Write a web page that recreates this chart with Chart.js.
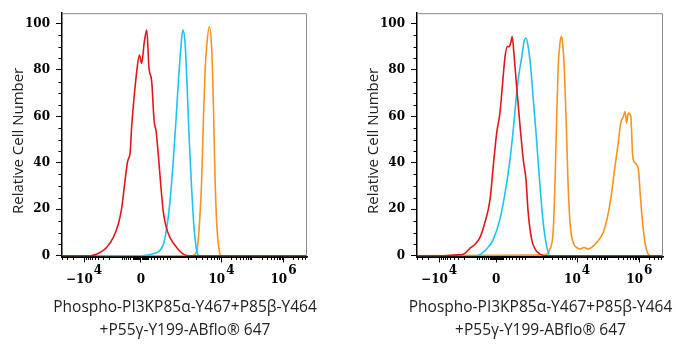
<!DOCTYPE html>
<html>
<head>
<meta charset="utf-8">
<script src="https://cdn.jsdelivr.net/npm/chart.js@4.4.1/dist/chart.umd.min.js"></script>
<style>
    body { margin: 0; background: #fff; }
    #wrap { position: relative; width: 676px; height: 350px; }
    canvas { position: absolute; top: 0; }
</style>
</head>
<body>
<div id="wrap">
    <canvas id="leftChart" width="338" height="350" style="left:0"></canvas>
    <canvas id="rightChart" width="338" height="350" style="left:338px"></canvas>
</div>
<script>
// x axis is in display channels (0..1000) of the biexponential scale
const xTickValues = [90, 322, 651, 904];
const xTickBase = ['\u221210', '0', '10', '10'];
const xTickExp = ['4', '', '4', '6'];
const yTickValues = [0, 20, 40, 60, 80, 100];
const xTitle = ['Phospho-PI3KP85\u03b1-Y467+P85\u03b2-Y464', '+P55\u03b3-Y199-ABflo\u00ae 647'];
const yTitle = 'Relative Cell Number';

// decade positions on the channel scale, used for the small ticks
const decadeNeg = [90, 237];          // -10^4, -10^3
const decadeZero = 322;               // 0
const decadePos = [453, 651, 778, 904]; // 10^3, 10^4, 10^5, 10^6

const leftRedX = [0, 86, 114, 155, 182, 209, 230, 244, 257, 268, 278, 284, 294, 305, 316, 325, 336, 346, 355, 366, 376, 384, 393, 403, 413, 424, 441, 468, 495, 522, 1000];
const leftRedY = [0, 0, 0, 1.4, 3.6, 7.8, 13.7, 20.7, 32.1, 40.7, 44.3, 55.0, 67.9, 79.3, 86.4, 82.8, 92.1, 97.1, 80.9, 75.2, 58.1, 53.6, 43.6, 30.7, 19.3, 12.9, 7.8, 3.6, 0.7, 0, 0];
const leftCyanX = [0, 305, 371, 413, 427, 441, 454, 465, 475, 485, 493, 502, 511, 519, 529, 539, 550, 560, 1000];
const leftCyanY = [0, 0, 0.9, 4.7, 11.6, 23.6, 40.7, 57.9, 75.0, 89.3, 97.1, 92.1, 72.1, 50.7, 29.3, 12.1, 2.1, 0, 0];
const leftOrangeX = [0, 529, 550, 560, 570, 577, 584, 591, 601, 611, 618, 624, 631, 642, 652, 1000];
const leftOrangeY = [0, 0, 2.1, 12.1, 32.1, 57.9, 79.3, 90.7, 98.6, 89.3, 65.0, 36.4, 15.0, 2.1, 0, 0];

const rightRedX = [0, 94, 161, 188, 215, 236, 256, 276, 297, 310, 324, 337, 348, 358, 367, 375, 382, 387, 394, 405, 419, 432, 443, 452, 466, 480, 500, 527, 1000];
const rightRedY = [0, 0, 0.4, 0.7, 3.2, 5.0, 7.9, 14.3, 24.3, 38.6, 52.9, 61.4, 74.3, 85.7, 90.0, 90.0, 92.1, 94.3, 87.1, 72.9, 55.7, 41.4, 32.9, 18.6, 7.1, 2.9, 0.7, 0, 0];
const rightCyanX = [0, 121, 243, 283, 310, 337, 358, 378, 394, 405, 415, 426, 435, 443, 452, 462, 473, 487, 500, 513, 527, 541, 561, 1000];
const rightCyanY = [0, 0, 0, 2.9, 7.1, 15.7, 27.1, 41.4, 57.1, 70.0, 78.6, 85.7, 92.1, 93.6, 90.0, 81.4, 67.1, 48.6, 30.0, 14.3, 4.3, 0, 0, 0];
const rightOrangeX = [0, 513, 541, 554, 561, 568, 574, 581, 587, 592, 599, 606, 613, 622, 635, 649, 663, 679, 696, 710, 730, 757, 778, 791, 805, 818, 828, 839, 846, 852, 859, 869, 877, 886, 900, 907, 917, 927, 940, 954, 1000];
const rightOrangeY = [0, 0.3, 2.9, 11.4, 31.4, 60.0, 81.4, 91.4, 94.3, 91.4, 80.0, 60.0, 34.3, 14.3, 5.7, 3.6, 2.9, 3.6, 2.9, 3.6, 5.7, 10.0, 18.6, 27.1, 38.6, 48.6, 57.1, 60.0, 62.1, 57.1, 61.4, 60.0, 42.9, 40.0, 37.1, 27.1, 14.3, 5.7, 0.7, 0, 0];

const RED = '#e3161c', CYAN = '#1cc4ee', ORANGE = '#f7931e';

function minorTicks() {
    let out = [];
    const neg = decadeNeg, pos = decadePos;
    for (let m = 2; m <= 9; m++) {
        const lg = Math.log10(m);
        out.push(neg[1] - lg * (neg[1] - neg[0]));
        out.push(neg[0] - lg * (neg[1] - neg[0]));
        for (let k = 0; k < pos.length - 1; k++) out.push(pos[k] + lg * (pos[k + 1] - pos[k]));
        out.push(pos[3] + lg * (pos[3] - pos[2]));
    }
    for (let m = 1; m <= 9; m++) {
        out.push(decadeZero - m / 10 * (decadeZero - neg[1]));
        out.push(decadeZero + m / 10 * (pos[0] - decadeZero));
        out.push(decadeZero - m * 3);
        out.push(decadeZero + m * 3);
    }
    return out.filter(v => v > 0 && v < 1000);
}
const xMinor = minorTicks();
const yMinor = [];
for (let v = 5; v < 100; v += 5) if (v % 20) yMinor.push(v);

function points(xs, ys) {
    return xs.map((x, i) => ({ x: x, y: ys[i] }));
}

const axisDecor = {
    id: 'axisDecor',
    afterDraw(chart) {
        const ctx = chart.ctx, a = chart.chartArea;
        const x = chart.scales.x, y = chart.scales.y;
        ctx.save();
        // grey frame top and right
        ctx.strokeStyle = '#8c8c8c';
        ctx.lineWidth = 1;
        ctx.beginPath();
        ctx.moveTo(a.left, a.top + 0.5);
        ctx.lineTo(a.right - 0.5, a.top + 0.5);
        ctx.lineTo(a.right - 0.5, a.bottom);
        ctx.stroke();
        // bottom axis line again, over the flat parts of the curves
        ctx.strokeStyle = '#000';
        ctx.lineWidth = 1.5;
        ctx.beginPath();
        ctx.moveTo(a.left - 0.75, a.bottom + 0.75);
        ctx.lineTo(a.right, a.bottom + 0.75);
        ctx.stroke();
        // small ticks
        ctx.lineWidth = 1;
        ctx.beginPath();
        xMinor.forEach(v => {
            const px = Math.round(x.getPixelForValue(v)) + 0.5;
            ctx.moveTo(px, a.bottom); ctx.lineTo(px, a.bottom + 3.5);
        });
        yMinor.forEach(v => {
            const py = Math.round(y.getPixelForValue(v)) + 0.5;
            ctx.moveTo(a.left, py); ctx.lineTo(a.left - 3.5, py);
        });
        ctx.stroke();
        // x tick labels with raised exponent
        ctx.font = 'bold 12px "DejaVu Serif"';
        ctx.fillStyle = '#000';
        ctx.textBaseline = 'middle';
        ctx.textAlign = 'left';
        xTickValues.forEach((v, i) => {
            const px = x.getPixelForValue(v);
            const wb = ctx.measureText(xTickBase[i]).width;
            const we = xTickExp[i] ? ctx.measureText(xTickExp[i]).width + 1 : 0;
            const left = px - (wb + we) / 2;
            ctx.fillText(xTickBase[i], left, a.bottom + 23);
            if (xTickExp[i]) ctx.fillText(xTickExp[i], left + wb + 1, a.bottom + 14);
        });
        // x title, two lines, allowed to run wider than the axis
        ctx.font = '15.5px "Open Sans"';
        ctx.fillStyle = '#222';
        ctx.textAlign = 'center';
        const cx = (a.left + a.right) / 2 + 0.5;
        ctx.fillText(xTitle[0], cx, a.bottom + 51);
        ctx.fillText(xTitle[1], cx, a.bottom + 74);
        // y title
        ctx.font = '15px "Open Sans"';
        ctx.translate(y.left + 9.5, (a.top + a.bottom) / 2 + 6);
        ctx.rotate(-Math.PI / 2);
        ctx.fillText(yTitle, 0, 0);
        ctx.restore();
    }
};

function makeChart(id, series, padLeft, padRight) {
    let ctx = document.getElementById(id).getContext('2d');
    new Chart(ctx, {
        type: 'line',
        data: {
            datasets: series.map(s => ({
                data: points(s[0], s[1]),
                borderColor: s[2],
                borderWidth: 1.6,
                pointRadius: 0,
                cubicInterpolationMode: 'monotone',
                fill: false
            }))
        },
        options: {
            responsive: false,
            animation: false,
            layout: { padding: { left: padLeft, right: padRight, top: 13, bottom: 0 } },
            plugins: { legend: { display: false }, tooltip: { enabled: false } },
            scales: {
                x: {
                    type: 'linear',
                    min: 0,
                    max: 1000,
                    afterBuildTicks: scale => { scale.ticks = xTickValues.map(v => ({ value: v })); },
                    afterFit: scale => { scale.height = 93.5; },
                    ticks: { display: false },
                    grid: { drawOnChartArea: false, tickLength: 6, color: '#000', lineWidth: 1 },
                    border: { color: '#000', width: 1.5 }
                },
                y: {
                    type: 'linear',
                    min: -0.3,
                    max: 104.4,
                    afterBuildTicks: scale => { scale.ticks = yTickValues.map(v => ({ value: v })); },
                    afterFit: scale => { scale.width = 53; },
                    ticks: {
                        color: '#000',
                        padding: 6,
                        font: { family: 'DejaVu Serif', size: 12, weight: 'bold' }
                    },
                    grid: { drawOnChartArea: false, tickLength: 6, color: '#000', lineWidth: 1 },
                    border: { color: '#000', width: 1.5 }
                }
            }
        },
        plugins: [axisDecor]
    });
}

document.addEventListener("DOMContentLoaded", function () {
    makeChart('leftChart', [
        [leftRedX, leftRedY, RED],
        [leftCyanX, leftCyanY, CYAN],
        [leftOrangeX, leftOrangeY, ORANGE]
    ], 9, 31);
    makeChart('rightChart', [
        [rightRedX, rightRedY, RED],
        [rightCyanX, rightCyanY, CYAN],
        [rightOrangeX, rightOrangeY, ORANGE]
    ], 26, 13);
});
</script>
</body>
</html>
